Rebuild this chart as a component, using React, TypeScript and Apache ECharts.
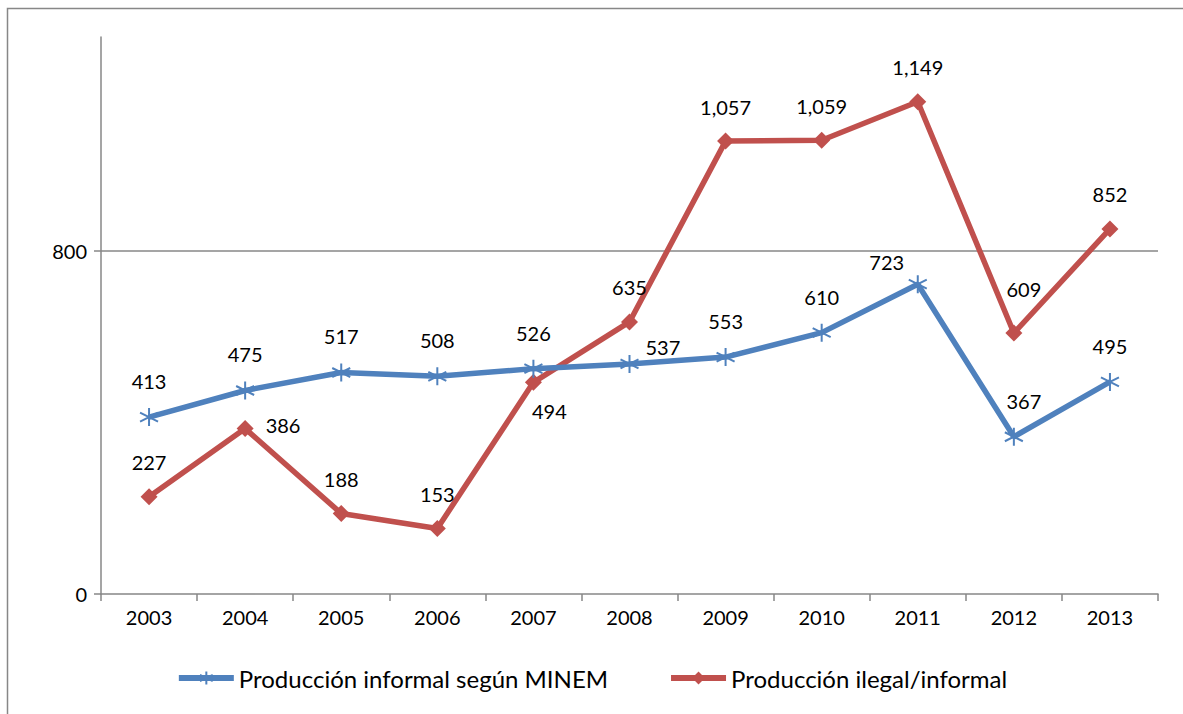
import React, { useEffect, useRef } from "react";
import * as echarts from "echarts";

const years = ["2003", "2004", "2005", "2006", "2007", "2008", "2009", "2010", "2011", "2012", "2013"];
const informalMinem = [413, 475, 517, 508, 526, 537, 553, 610, 723, 367, 495];
const ilegalInformal = [227, 386, 188, 153, 494, 635, 1057, 1059, 1149, 609, 852];
const seriesNames = ["Producción informal según MINEM", "Producción ilegal/informal"];
const yTicks = [0, 800];

const FONT = "Lato, 'Open Sans', sans-serif";
const BLUE = "#4F81BD";
const RED = "#C0504D";
const GRAY = "#878787";

const fmt = (v: number) => v.toLocaleString("en-US");

const starPath = "path://M0,-10L0,10M-8.7,-5L8.7,5M-8.7,5L8.7,-5";

const blueLabelOverrides: Record<number, any> = {
  5: { position: "right", distance: 6, offset: [0, -17] },
  8: { position: "top", offset: [-31, 14] },
  9: { position: "top", offset: [10, 0] },
};
const redLabelOverrides: Record<number, any> = {
  1: { position: "right", distance: 12, offset: [0, -4] },
  4: { position: "bottom", distance: 10, offset: [16, 0] },
  9: { position: "top", offset: [10, -10] },
};

export default function App() {
  const ref = useRef<HTMLDivElement>(null);
  useEffect(() => {
    if (!ref.current) return;
    const chart = echarts.init(ref.current, undefined, { renderer: "svg" });
    const labelBase = {
      show: true,
      position: "top",
      distance: 16,
      color: "#000",
      fontSize: 20,
      fontFamily: FONT,
      formatter: (p: any) => fmt(p.value),
    };
    chart.setOption({
      animation: false,
      backgroundColor: "#fff",
      textStyle: { fontFamily: FONT },
      graphic: [
        {
          type: "rect",
          shape: { x: 7.5, y: 8.5, width: 1300, height: 800 },
          style: { fill: "none", stroke: GRAY, lineWidth: 1.5 },
          silent: true,
        },
      ],
      grid: { left: 101, right: 25, top: 37, bottom: 120, containLabel: false },
      legend: {
        bottom: 19,
        left: "center",
        itemWidth: 55,
        itemHeight: 16,
        itemGap: 60,
        lineStyle: { width: 6 },
        textStyle: { fontSize: 24, fontFamily: FONT, color: "#000" },
        data: seriesNames,
      },
      xAxis: {
        type: "category",
        data: years,
        boundaryGap: true,
        axisLine: { lineStyle: { color: GRAY, width: 1.5 } },
        axisTick: { show: true, alignWithLabel: false, length: 7, lineStyle: { color: GRAY, width: 1.5 } },
        axisLabel: { color: "#000", fontSize: 20, fontFamily: FONT, margin: 13 },
      },
      yAxis: {
        type: "value",
        min: 0,
        max: 1300,
        interval: 800,
        axisLine: { show: true, lineStyle: { color: GRAY, width: 1.5 } },
        axisTick: { show: true, length: 7, customValues: yTicks, lineStyle: { color: GRAY, width: 1.5 } },
        axisLabel: { color: "#000", fontSize: 20, fontFamily: FONT, margin: 14, customValues: yTicks },
        splitLine: { show: true, showMinLine: false, lineStyle: { color: GRAY, width: 1.5 } },
      },
      series: [
        {
          name: seriesNames[0],
          type: "line",
          data: informalMinem.map((v, i) => ({
            value: v,
            label: blueLabelOverrides[i] ? { ...blueLabelOverrides[i] } : undefined,
          })),
          symbol: starPath,
          symbolSize: 18,
          showAllSymbol: true,
          lineStyle: { color: BLUE, width: 5.5 },
          itemStyle: { color: BLUE, borderColor: BLUE, borderWidth: 2 },
          label: labelBase,
          z: 3,
        },
        {
          name: seriesNames[1],
          type: "line",
          data: ilegalInformal.map((v, i) => ({
            value: v,
            label: redLabelOverrides[i] ? { ...redLabelOverrides[i] } : undefined,
          })),
          symbol: "diamond",
          symbolSize: 17,
          showAllSymbol: true,
          lineStyle: { color: RED, width: 5.5 },
          itemStyle: { color: RED },
          label: labelBase,
          z: 2,
        },
      ],
    });
    return () => chart.dispose();
  }, []);
  return (
    <div
      ref={ref}
      style={{ position: "fixed", left: 0, top: 0, width: 1183, height: 714 }}
    />
  );
}
